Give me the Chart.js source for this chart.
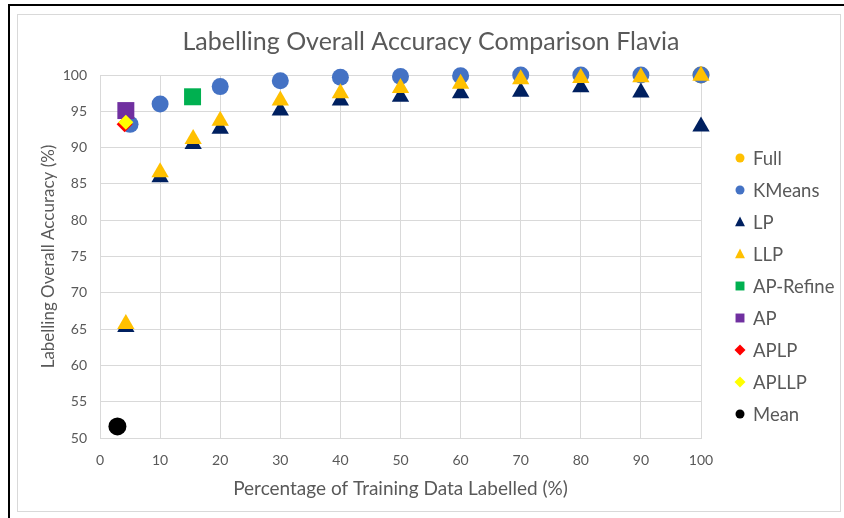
<!DOCTYPE html>
<html>
<head>
<meta charset="utf-8">
<script src="https://cdn.jsdelivr.net/npm/chart.js@4.4.1/dist/chart.umd.min.js"></script>
<style>
  html, body { margin: 0; padding: 0; background: #ffffff; }
  #wrap { position: relative; width: 844px; height: 518px; }
</style>
</head>
<body>
<div id="wrap"><canvas id="c" width="844" height="518"></canvas></div>
<script>
// ---- data ----
const seriesNames = ["Full", "KMeans", "LP", "LLP", "AP-Refine", "AP", "APLP", "APLLP", "Mean"];

const fullX = [100];
const fullY = [100];

const kmeansX = [5, 10, 20, 30, 40, 50, 60, 70, 80, 90, 100];
const kmeansY = [93.2, 96.0, 98.4, 99.2, 99.7, 99.8, 99.9, 100, 100, 100, 100];

const lpX = [4.3, 10, 15.5, 20, 30, 40, 50, 60, 70, 80, 90, 100];
const lpY = [65.3, 85.9, 90.5, 92.6, 95.1, 96.5, 97.0, 97.5, 97.7, 98.3, 97.6, 92.9];

const llpX = [4.3, 10, 15.5, 20, 30, 40, 50, 60, 70, 80, 90, 100];
const llpY = [65.7, 86.6, 91.2, 93.7, 96.5, 97.5, 98.2, 98.8, 99.4, 99.6, 99.7, 99.9];

const apRefineX = [15.4];
const apRefineY = [97.0];

const apX = [4.3];
const apY = [95.1];

const aplpX = [4.1];
const aplpY = [93.2];

const apllpX = [4.3];
const apllpY = [93.5];

const meanX = [2.9];
const meanY = [51.6];

const xTicks = [0, 10, 20, 30, 40, 50, 60, 70, 80, 90, 100];
const yTicks = [50, 55, 60, 65, 70, 75, 80, 85, 90, 95, 100];

const titleText = "Labelling Overall Accuracy Comparison Flavia";
const xTitle = "Percentage of Training Data Labelled (%)";
const yTitle = "Labelling Overall Accuracy (%)";

// ---- build ----
function pts(xs, ys) { return xs.map((x, i) => ({ x: x, y: ys[i] })); }

const FONT = "Lato";
const TXT = "#595959";
const GRID = "#d9d9d9";

const styles = [
  { color: "#FFC000", style: "circle",   r: 8.5, lr: 4.5 },
  { color: "#4472C4", style: "circle",   r: 8.5, lr: 4.5 },
  { color: "#002060", style: "triangle", r: 10,  lr: 5.5 },
  { color: "#FFC000", style: "triangle", r: 10,  lr: 5.5 },
  { color: "#00B050", style: "rect",     r: 12,  lr: 6.2 },
  { color: "#7030A0", style: "rect",     r: 12,  lr: 6.2 },
  { color: "#FF0000", style: "rectRot",  r: 8,   lr: 5.5 },
  { color: "#FFFF00", style: "rectRot",  r: 7.5, lr: 5.5 },
  { color: "#000000", style: "circle",   r: 9,   lr: 4.5 }
];

const dataPairs = [
  [fullX, fullY], [kmeansX, kmeansY], [lpX, lpY], [llpX, llpY],
  [apRefineX, apRefineY], [apX, apY], [aplpX, aplpY], [apllpX, apllpY], [meanX, meanY]
];

const datasets = seriesNames.map((name, i) => ({
  label: name,
  data: pts(dataPairs[i][0], dataPairs[i][1]),
  pointStyle: styles[i].style,
  pointRadius: styles[i].r,
  pointHoverRadius: styles[i].r,
  backgroundColor: styles[i].color,
  borderColor: styles[i].color,
  pointBorderWidth: 0,
  showLine: false,
  clip: false,
  order: seriesNames.length - i   // later series drawn on top
}));

function marker(ctx, style, x, y, r) {
  ctx.beginPath();
  if (style === "circle") {
    ctx.arc(x, y, r, 0, Math.PI * 2);
  } else if (style === "triangle") {
    ctx.moveTo(x, y - r);
    ctx.lineTo(x + r * 0.9, y + r * 0.75);
    ctx.lineTo(x - r * 0.9, y + r * 0.75);
    ctx.closePath();
  } else if (style === "rect") {
    ctx.rect(x - r * 0.72, y - r * 0.72, r * 1.44, r * 1.44);
  } else if (style === "rectRot") {
    ctx.moveTo(x, y - r); ctx.lineTo(x + r, y); ctx.lineTo(x, y + r); ctx.lineTo(x - r, y);
    ctx.closePath();
  }
  ctx.fill();
}

const framePlugin = {
  id: "frame",
  beforeDraw(chart) {
    const ctx = chart.ctx;
    ctx.save();
    ctx.fillStyle = "#ffffff";
    ctx.fillRect(0, 0, chart.width, chart.height);
    ctx.strokeStyle = GRID;
    ctx.lineWidth = 1;
    ctx.strokeRect(17.5, 14.5, 823, 497);
    ctx.strokeStyle = "#000000";
    ctx.lineWidth = 2;
    ctx.beginPath();
    ctx.moveTo(9, 518); ctx.lineTo(9, 5); ctx.lineTo(844, 5);
    ctx.stroke();
    // chart title
    ctx.fillStyle = TXT;
    ctx.font = "25px " + FONT;
    ctx.textAlign = "center";
    ctx.textBaseline = "middle";
    ctx.fillText(titleText, 431, 42);
    ctx.restore();
  }
};

const legendPlugin = {
  id: "sideLegend",
  afterDraw(chart) {
    const ctx = chart.ctx;
    ctx.save();
    ctx.font = "18.5px " + FONT;
    ctx.textBaseline = "middle";
    ctx.textAlign = "left";
    chart.data.datasets.forEach((ds, i) => {
      const y = 158 + i * 32;
      ctx.fillStyle = ds.backgroundColor;
      marker(ctx, ds.pointStyle, 740, y, styles[i].lr);
      ctx.fillStyle = TXT;
      ctx.fillText(ds.label, 753, y + 1);
    });
    ctx.restore();
  }
};

new Chart(document.getElementById("c"), {
  type: "scatter",
  data: { datasets: datasets },
  options: {
    responsive: false,
    animation: false,
    devicePixelRatio: 1,
    layout: { padding: { left: 34, right: 143, top: 75, bottom: 16 } },
    plugins: {
      legend: { display: false },
      tooltip: { enabled: false },
      title: { display: false }
    },
    scales: {
      x: {
        type: "linear",
        min: 0, max: 100,
        afterBuildTicks(scale) { scale.ticks = xTicks.map(v => ({ value: v })); },
        afterFit(scale) { scale.height = 64; },
        grid: { color: GRID, drawTicks: false },
        border: { color: GRID },
        ticks: { color: TXT, padding: 14, font: { family: FONT, size: 14 } },
        title: { display: true, text: xTitle, color: TXT, font: { family: FONT, size: 19 }, padding: { top: 4, bottom: 2 } }
      },
      y: {
        type: "linear",
        min: 50, max: 100,
        afterBuildTicks(scale) { scale.ticks = yTicks.map(v => ({ value: v })); },
        afterFit(scale) { scale.width = 66; },
        grid: { color: GRID, drawTicks: false },
        border: { color: GRID },
        ticks: { color: TXT, padding: 13, font: { family: FONT, size: 14 } },
        title: { display: true, text: yTitle, color: TXT, font: { family: FONT, size: 17 }, padding: { top: 4, bottom: 4 } }
      }
    }
  },
  plugins: [framePlugin, legendPlugin]
});
</script>
</body>
</html>
